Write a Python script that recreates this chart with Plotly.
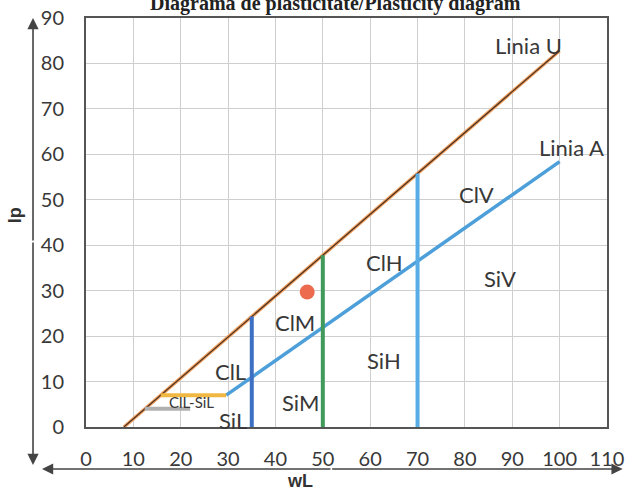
import plotly.graph_objects as go

# ---- data ----
u_wl = [8, 100]
u_ip = [0, 82.8]
a_wl = [29.6, 100]
a_ip = [7, 58.4]
clml_wl = [15.8, 29.6]
clml_ip = [7, 7]
grey_wl = [12.4, 22]
grey_ip = [4, 4]
v_wl = [35, 50, 70]
v_top = [24.3, 37.8, 55.8]
v_colors = ["#3d6fc2", "#3f9a5c", "#58ade6"]
pt_wl = [46.7]
pt_ip = [29.7]

zone_text = ["Linia U", "Linia A", "ClV", "ClH", "SiV", "ClM", "SiH", "ClL", "SiM", "SiL"]
zone_wl = [93.5, 102.5, 82.5, 63.0, 87.5, 44.2, 63.0, 30.5, 45.2, 31.0]
zone_ip = [84.0, 61.5, 51.2, 36.3, 32.6, 23.0, 14.7, 12.2, 5.3, 1.5]

x_ticks = list(range(0, 111, 10))
y_ticks = list(range(0, 91, 10))

fig = go.Figure()

# A line
fig.add_trace(go.Scatter(x=a_wl, y=a_ip, mode="lines",
                         line=dict(color="#4d9fd9", width=3.5), hoverinfo="skip"))
# U line (orange edge, dark core)
fig.add_trace(go.Scatter(x=u_wl, y=u_ip, mode="lines",
                         line=dict(color="#f0a060", width=3.5), hoverinfo="skip"))
fig.add_trace(go.Scatter(x=u_wl, y=u_ip, mode="lines",
                         line=dict(color="#4a3020", width=1.2), hoverinfo="skip"))
# CL-ML bands
fig.add_trace(go.Scatter(x=clml_wl, y=clml_ip, mode="lines",
                         line=dict(color="#f0b843", width=4), hoverinfo="skip"))
fig.add_trace(go.Scatter(x=grey_wl, y=grey_ip, mode="lines",
                         line=dict(color="#b0b0b0", width=4), hoverinfo="skip"))
# vertical limits
for xv, yt, c in zip(v_wl, v_top, v_colors):
    fig.add_trace(go.Scatter(x=[xv, xv], y=[0, yt], mode="lines",
                             line=dict(color=c, width=4), hoverinfo="skip"))
# sample point
fig.add_trace(go.Scatter(x=pt_wl, y=pt_ip, mode="markers",
                         marker=dict(color="#ec6b4f", size=15), hoverinfo="skip"))

label_font = dict(family="Lato, 'Open Sans', sans-serif", size=22, color="#383838")
for t, xw, yi in zip(zone_text, zone_wl, zone_ip):
    fig.add_annotation(x=xw, y=yi, text=t, showarrow=False, font=label_font)
fig.add_annotation(x=22.3, y=5.4, text="ClL-SiL", showarrow=False,
                   font=dict(family="Lato, 'Open Sans', sans-serif", size=15, color="#383838"))

# title (cut off at the top of the picture)
fig.add_annotation(xref="paper", yref="paper", x=0.478, y=1.015, yanchor="bottom",
                   yshift=-5,
                   text="<b>Diagrama de plasticitate/Plasticity diagram</b>", showarrow=False,
                   font=dict(family="Liberation Serif, serif", size=20, color="#222"))

# axis titles
fig.add_annotation(xref="paper", yref="paper", x=-0.136, y=0.518, text="<b>Ip</b>",
                   textangle=-90, showarrow=False, xshift=-12,
                   font=dict(family="Liberation Sans, Arial", size=18, color="#333"))
fig.add_annotation(xref="paper", yref="paper", x=0.411, y=-0.134, text="<b>wL</b>",
                   showarrow=False, yshift=-11,
                   font=dict(family="Liberation Sans, Arial", size=18, color="#333"))

# double arrows (decorative axes)
arr = dict(xref="paper", yref="paper", text="", showarrow=True, arrowhead=2,
           arrowsize=1.4, arrowwidth=1.6, arrowcolor="#444", axref="pixel", ayref="pixel")
fig.add_annotation(x=-0.1017, y=1.0, ax=0, ay=224, **arr)
fig.add_annotation(x=-0.1017, y=-0.093, ax=0, ay=-224, **arr)
fig.add_annotation(x=-0.0845, y=-0.1027, ax=290, ay=0, **arr)
fig.add_annotation(x=1.03, y=-0.1027, ax=-292, ay=0, **arr)

tick_font = dict(family="Lato, 'Open Sans', sans-serif", size=20, color="#383838")
fig.update_xaxes(range=[0, 110], tickvals=x_ticks, showgrid=True, gridcolor="#cfcfcf",
                 gridwidth=1, zeroline=False, showline=True, mirror=True,
                 linecolor="#555", linewidth=2, ticks="outside", ticklen=13,
                 tickcolor="rgba(0,0,0,0)", tickfont=tick_font, automargin=False)
fig.update_yaxes(range=[0, 90], tickvals=y_ticks, showgrid=True, gridcolor="#cfcfcf",
                 gridwidth=1, zeroline=False, showline=True, mirror=True,
                 linecolor="#555", linewidth=2, ticks="outside", ticklen=16,
                 tickcolor="rgba(0,0,0,0)", tickfont=tick_font, automargin=False)

fig.update_layout(width=625, height=490, showlegend=False,
                  margin=dict(l=86, r=18, t=18, b=63),
                  plot_bgcolor="white", paper_bgcolor="white")

fig.write_html("out.html", config={"displayModeBar": False},
               post_script="document.body.style.margin='0';document.body.style.overflow='hidden';")
